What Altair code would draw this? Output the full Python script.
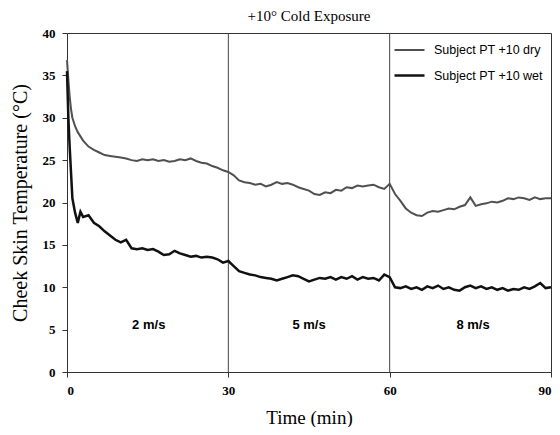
import altair as alt
import pandas as pd

times = [0, 0.25, 0.5, 0.75, 1, 1.5, 2, 2.5, 3,
         4, 5, 6, 7, 8, 9, 10, 11, 12, 13, 14, 15, 16, 17, 18, 19, 20,
         21, 22, 23, 24, 25, 26, 27, 28, 29, 30, 31, 32, 33, 34, 35, 36, 37, 38, 39, 40,
         41, 42, 43, 44, 45, 46, 47, 48, 49, 50, 51, 52, 53, 54, 55, 56, 57, 58, 59, 60,
         61, 62, 63, 64, 65, 66, 67, 68, 69, 70, 71, 72, 73, 74, 75, 76, 77, 78, 79, 80,
         81, 82, 83, 84, 85, 86, 87, 88, 89, 90]

dry = [36.8, 34.5, 32.5, 31.0, 30.0, 29.0, 28.3, 27.8, 27.3,
       26.6, 26.2, 25.9, 25.6, 25.5, 25.4, 25.3, 25.2, 25.0, 24.9, 25.1, 25.0, 25.1, 24.9, 25.0, 24.8, 24.9,
       25.1, 25.0, 25.2, 24.9, 24.7, 24.6, 24.3, 24.1, 23.8, 23.6, 23.2, 22.6, 22.4, 22.3, 22.1, 22.2, 21.9, 22.1, 22.4, 22.2,
       22.3, 22.1, 21.8, 21.6, 21.4, 21.0, 20.9, 21.2, 21.1, 21.5, 21.4, 21.8, 21.7, 22.0, 21.9, 22.0, 22.1, 21.8, 21.6, 22.2,
       21.0, 20.2, 19.3, 18.8, 18.5, 18.4, 18.8, 19.0, 18.9, 19.1, 19.3, 19.2, 19.5, 19.7, 20.6, 19.6, 19.8, 19.9, 20.1, 20.0,
       20.2, 20.5, 20.4, 20.6, 20.5, 20.3, 20.6, 20.4, 20.5, 20.5]

wet = [35.5, 30.0, 26.5, 23.5, 20.5, 18.8, 17.6, 18.9, 18.3,
       18.5, 17.6, 17.2, 16.6, 16.1, 15.6, 15.3, 15.6, 14.6, 14.5, 14.6, 14.4, 14.5, 14.2, 13.8, 13.9, 14.3,
       14.0, 13.8, 13.6, 13.7, 13.5, 13.6, 13.5, 13.3, 12.9, 13.1, 12.5, 11.9, 11.7, 11.5, 11.4, 11.2, 11.1, 11.0, 10.8, 11.0,
       11.2, 11.4, 11.3, 11.0, 10.7, 10.9, 11.1, 11.0, 11.2, 10.9, 11.2, 11.0, 11.3, 10.9, 11.2, 11.0, 11.1, 10.8, 11.5, 11.2,
       10.0, 9.9, 10.1, 9.8, 10.0, 9.7, 10.1, 9.9, 10.2, 9.8, 10.0, 9.7, 9.6, 10.0, 10.2, 9.9, 10.1, 9.8, 10.0, 9.7,
       9.9, 9.6, 9.8, 9.7, 10.0, 9.8, 10.1, 10.5, 9.9, 10.0]

series_names = ["Subject PT +10 dry", "Subject PT +10 wet"]
divider_times = [30, 60]
speed_labels = ["2 m/s", "5 m/s", "8 m/s"]
speed_x = [15.2, 45, 75.5]
speed_y = [5.5, 5.5, 5.5]

rows = []
for t, v in zip(times, dry):
    rows.append({"t": t, "v": v, "s": series_names[0]})
for t, v in zip(times, wet):
    rows.append({"t": t, "v": v, "s": series_names[1]})
df = pd.DataFrame(rows)

xscale = alt.Scale(domain=[0, 90], nice=False)
yscale = alt.Scale(domain=[0, 40], nice=False)

lines = alt.Chart(df).mark_line(interpolate="linear").encode(
    x=alt.X("t:Q", scale=xscale,
            axis=alt.Axis(title="Time (min)", values=[0, 30, 60, 90], grid=False,
                          domainColor="#333", tickColor="#333", labelFont="Liberation Serif",
                          labelFontWeight="bold", labelFontSize=13, labelColor="#000",
                          titleFont="Liberation Serif", titleFontSize=19, titleFontWeight="normal",
                          titleColor="#000", titlePadding=11, tickSize=5, labelPadding=7)),
    y=alt.Y("v:Q", scale=yscale,
            axis=alt.Axis(title="Cheek Skin Temperature (°C)", values=[0, 5, 10, 15, 20, 25, 30, 35, 40],
                          grid=False, domainColor="#333", tickColor="#333", labelFont="Liberation Serif",
                          labelFontWeight="bold", labelFontSize=13, labelColor="#000",
                          titleFont="Liberation Serif", titleFontSize=20, titleFontWeight="normal",
                          titleColor="#000", titlePadding=12, tickSize=5, labelPadding=7)),
    color=alt.Color("s:N", scale=alt.Scale(domain=series_names, range=["#505050", "#111111"]),
                    legend=alt.Legend(title=None, orient="none", legendX=326, legendY=1,
                                      symbolType="stroke", symbolSize=900, symbolStrokeWidth=2,
                                      labelFont="Liberation Sans", labelFontSize=12.5, labelColor="#000",
                                      rowPadding=2, labelOffset=8)),
    strokeWidth=alt.StrokeWidth("s:N", scale=alt.Scale(domain=series_names, range=[2.0, 2.5]),
                                legend=None),
)

vlines = alt.Chart(pd.DataFrame({"t": divider_times})).mark_rule(color="#444", strokeWidth=1).encode(
    x=alt.X("t:Q", scale=xscale)
)

speeds = alt.Chart(pd.DataFrame({"t": speed_x, "v": speed_y, "lab": speed_labels})).mark_text(
    font="Liberation Sans", fontSize=13, fontWeight="bold", color="#000"
).encode(
    x=alt.X("t:Q", scale=xscale),
    y=alt.Y("v:Q", scale=yscale),
    text="lab:N",
)

chart = alt.layer(vlines, lines, speeds).properties(
    width=484, height=339,
    title=alt.TitleParams("+10° Cold Exposure", font="Liberation Serif", fontSize=15,
                          fontWeight="normal", color="#000", offset=3),
    autosize=alt.AutoSizeParams(type="none"),
    padding={"left": 59, "top": 25, "right": 1, "bottom": 55},
).configure_view(stroke="#333", strokeWidth=1)

chart.save("out.html", embed_options={"renderer": "svg", "actions": False})
